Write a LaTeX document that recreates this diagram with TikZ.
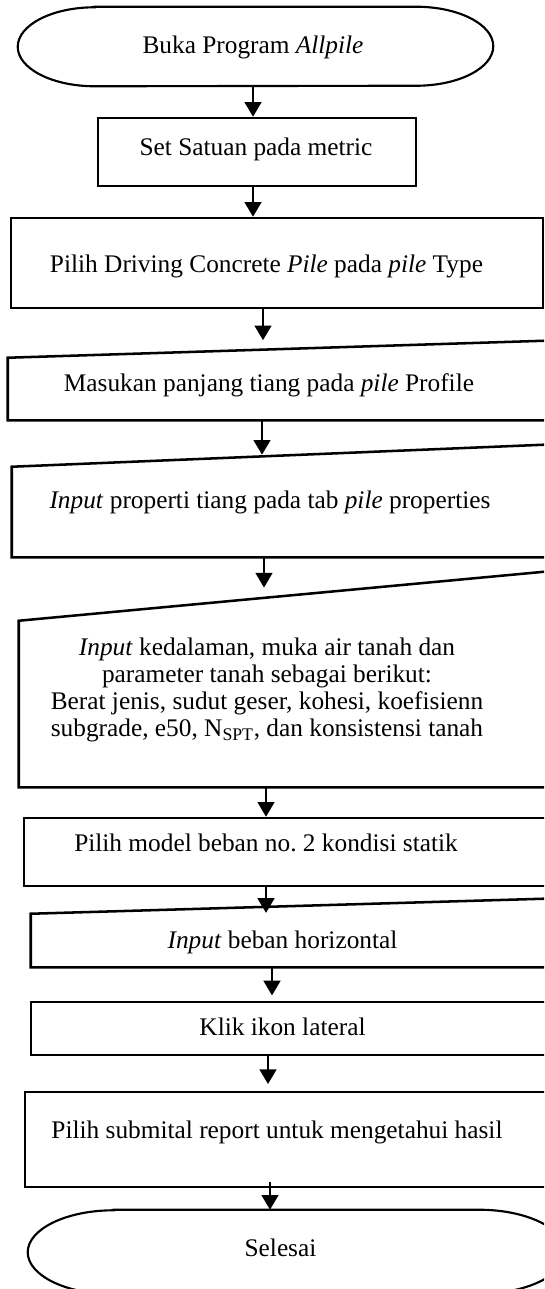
\documentclass[tikz,border=0pt]{standalone}
\usepackage{fontspec}
\setmainfont{Liberation Serif}
\usetikzlibrary{arrows.meta, calc}

% outline of a terminator round node #1: end radius #2, height #3 (in px)
\newcommand{\termline}[3]{%
  \draw[termedge] ([xshift=#2*0.75pt]#1.north west) -- ([xshift=-#2*0.75pt]#1.north east)
    arc[start angle=90, end angle=-90, x radius=#2*0.75pt, y radius=#3*0.375pt]
    -- ([xshift=#2*0.75pt]#1.south west)
    arc[start angle=270, end angle=90, x radius=#2*0.75pt, y radius=#3*0.375pt] -- cycle;}
% outline of a manual input round node #1: left top corner lower by #2 px
\newcommand{\manualline}[2]{%
  \draw[edge] (#1.south west) -- ([yshift=-#2*0.75pt]#1.north west)
    -- (#1.north east) -- (#1.south east) -- cycle;}

\begin{document}
\begin{tikzpicture}[x=0.75pt, y=-0.75pt,
  edge/.style={line width=1.9pt},
  termedge/.style={line width=1.6pt},
  rect/.style 2 args={draw, line width=1.9pt, inner sep=0pt,
                      minimum width=#1*0.75pt, minimum height=#2*0.75pt},
  blank/.style 2 args={inner sep=0pt, minimum width=#1*0.75pt, minimum height=#2*0.75pt},
  txt/.style={font=\fontsize{19}{20.25}\selectfont, inner sep=0pt, anchor=base},
  arr/.style={-{Triangle[length=11pt, width=12.5pt]}, line width=1.8pt}
]
  \useasboundingbox (0,0) rectangle (544,1289);
  \clip (0,0) rectangle (544,1289);

  % shapes
  \node[blank={475}{79}] (start) at (255.5,46.5) {};
  \termline{start}{77}{79}
  \node[rect={318}{68}] (set) at (257,152) {};
  \node[rect={532}{90}] (drive) at (277,263) {};
  \node[blank={552}{79.5}] (profile) at (284,380.25) {};
  \manualline{profile}{17.5}
  \node[blank={548}{112.7}] (props) at (286,500.65) {};
  \manualline{props}{22.7}
  \node[blank={541}{216.5}] (soil) at (289.5,678.75) {};
  \manualline{soil}{50.5}
  \node[rect={536}{68}] (load) at (292,852) {};
  \node[blank={529}{68.5}] (horiz) at (295.5,932.75) {};
  \manualline{horiz}{15.5}
  \node[rect={529}{53}] (lateral) at (295.5,1028.5) {};
  \node[rect={535}{95}] (report) at (292.5,1139.5) {};
  \node[blank={537}{84}] (finish) at (296.5,1252) {};
  \termline{finish}{86}{84}

  % texts
  \node[txt] (start-t) at (253,53.3) {Buka Program \textit{Allpile}};
  \node[txt] (set-t) at (256,155) {Set Satuan pada metric};
  \node[txt] (drive-t) at (266.5,272.3) {Pilih Driving Concrete \textit{Pile} pada \textit{pile} Type};
  \node[txt] (profile-t) at (269,391.7) {Masukan panjang tiang pada \textit{pile} Profile};
  \node[txt] (props-t) at (270,508.3) {\textit{Input} properti tiang pada tab \textit{pile} properties};
  \node[txt, anchor=center, align=center] (soil-t) at (267,690) {\textit{Input} kedalaman, muka air tanah dan\\
    parameter tanah sebagai berikut:\\
    Berat jenis, sudut geser, kohesi, koefisienn\\
    subgrade, e50, N\textsubscript{SPT}, dan konsistensi tanah};
  \node[txt] (load-t) at (266,851.7) {Pilih model beban no.\ 2 kondisi statik};
  \node[txt] (horiz-t) at (282.5,948.3) {\textit{Input} beban horizontal};
  \node[txt] (lateral-t) at (282.5,1035) {Klik ikon lateral};
  \node[txt] (report-t) at (277,1138.3) {Pilih submital report untuk mengetahui hasil};
  \node[txt] (finish-t) at (280.5,1256.7) {Selesai};

  % arrows
  \draw[arr] (start.south -| 253,0) -- (set.north -| 253,0);
  \draw[arr] (set.south -| 253,0) -- (drive.north -| 253,0);
  \draw[arr] (drive.south -| 263,0) -- (profile.north -| 263,0);
  \draw[arr, shorten >=-8pt] (profile.south -| 262,0) -- (props.north -| 262,0);
  \draw[arr, shorten >=-13pt] (props.south -| 264,0) -- (soil.north -| 264,0);
  \draw[arr] (soil.south -| 266,0) -- (load.north -| 266,0);
  \draw[arr, shorten >=-11pt] (load.south -| 266,0) -- (horiz.north -| 266,0);
  \draw[arr, shorten >=4pt] (horiz.south -| 272,0) -- (lateral.north -| 272,0);
  \draw[arr, shorten >=5pt] (lateral.south -| 268,0) -- (report.north -| 268,0);
  \draw[arr, shorten <=-5pt] (report.south -| 270,0) -- (finish.north -| 270,0);
\end{tikzpicture}
\end{document}
